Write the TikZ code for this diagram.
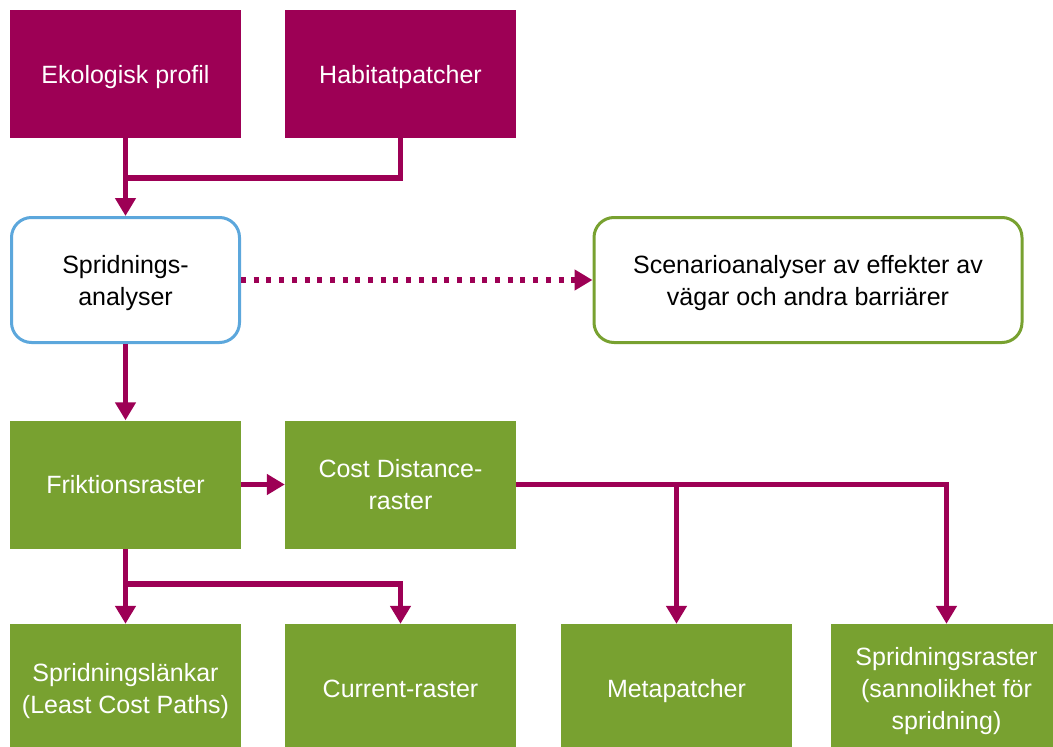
\documentclass[tikz,border=0pt]{standalone}
\usepackage{fontspec}
\setmainfont{Liberation Sans}
\usetikzlibrary{arrows.meta}
\definecolor{mag}{HTML}{9D0055}
\definecolor{grn}{HTML}{78A130}
\definecolor{blu}{HTML}{5CA7DC}
\newcommand\bt[1]{\raisebox{-3pt}[\height][\depth]{\begin{tabular}{@{}c@{}}#1\end{tabular}}}
\tikzset{
  box/.style={rectangle, minimum width=231pt, minimum height=128pt, inner sep=0pt, text=white, font=\fontsize{25}{32}\selectfont},
  magbox/.style={box, fill=mag},
  grnbox/.style={box, fill=grn},
  rbox/.style={box, text=black, fill=white, draw, line width=3pt, rounded corners=20pt, minimum width=228pt, minimum height=125pt},
  line/.style={draw=mag, line width=5.5pt},
  conn/.style={line, -{Triangle[width=20pt,length=18pt]}},
  dotconn/.style={conn, dash pattern=on 5pt off 7.7pt}
}
\begin{document}
\begin{tikzpicture}[x=1pt,y=-1pt]
\useasboundingbox (0,0) rectangle (1053,747);
\clip (0,0) rectangle (1053,747);
\node[magbox] (eko) at (125.5,74) {\bt{Ekologisk profil}};
\node[magbox] (hab) at (400.5,74) {\bt{Habitatpatcher}};
\node[rbox, draw=blu] (spa) at (125.5,280) {\bt{Spridnings-\\analyser}};
\node[rbox, draw=grn, minimum width=428pt] (scen) at (808,280) {\bt{Scenarioanalyser av effekter av\\vägar och andra barriärer}};
\node[grnbox] (frik) at (125.5,484.5) {\bt{Friktionsraster}};
\node[grnbox] (cd) at (400.5,484.5) {\bt{Cost Distance-\\raster}};
\node[grnbox] (sl) at (125.5,688) {\bt{Spridningslänkar\\(Least Cost Paths)}};
\node[grnbox] (cur) at (400.5,688) {\bt{Current-raster}};
\node[grnbox] (meta) at (676.5,688) {\bt{Metapatcher}};
\node[grnbox] (sr) at (946.5,688) {\bt{Spridningsraster\\(sannolikhet för\\spridning)}};
\coordinate (j1) at (125.5,178);
\coordinate (j2) at (125.5,584);
\coordinate (j3) at (676.5,484.5);
\draw[conn] (eko.south) -- (spa.north);
\draw[line] (hab.south) |- (j1);
\draw[dotconn] (spa.east) -- (scen.west);
\draw[conn] (spa.south) -- (frik.north);
\draw[conn] (frik.east) -- (cd.west);
\draw[conn] (frik.south) -- (sl.north);
\draw[conn] (j2) -| (cur.north);
\draw[conn] (cd.east) -| (sr.north);
\draw[conn] (j3) -- (meta.north);
\end{tikzpicture}
\end{document}
